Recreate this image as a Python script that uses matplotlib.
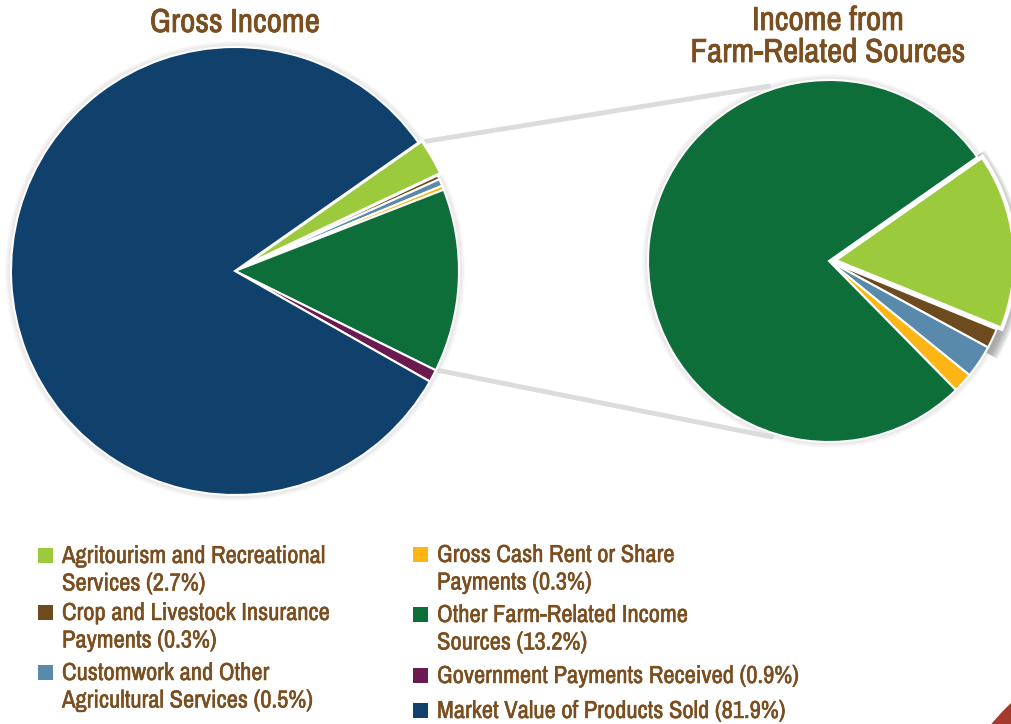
import math

import matplotlib
matplotlib.use("Agg")
import matplotlib.pyplot as plt
import matplotlib.patheffects as pe
from matplotlib.patches import Rectangle, Circle, Wedge

# ── データ ─────────────────────────────────────────────────────────────
categories = [
    "Agritourism and Recreational Services",
    "Crop and Livestock Insurance Payments",
    "Customwork and Other Agricultural Services",
    "Gross Cash Rent or Share Payments",
    "Other Farm-Related Income Sources",
    "Government Payments Received",
    "Market Value of Products Sold",
]
shares = [2.7, 0.3, 0.5, 0.3, 13.2, 0.9, 81.9]   # % of gross income
n_farm_related = 5                               # 先頭5項目が農業関連収入
legend_text = [
    "Agritourism and Recreational\nServices",
    "Crop and Livestock Insurance\nPayments",
    "Customwork and Other\nAgricultural Services",
    "Gross Cash Rent or Share\nPayments",
    "Other Farm-Related Income\nSources",
    "Government Payments Received",
    "Market Value of Products Sold",
]
colors = ["#9bca3c", "#6e4a1f", "#5a8aab", "#fdb515",
          "#0d6e3a", "#6b1a4f", "#10406c"]

# ── レイアウト（ピクセル座標, y は上から）──────────────────────────────
W, H = 1011, 724
TEXT_COLOR = "#7a4e1f"
FONT = ["Archivo Narrow", "Liberation Sans Narrow", "DejaVu Sans"]
LEFT_C, LEFT_R = (235, 271), 224
RIGHT_C, RIGHT_R = (829, 261), 181
START = 35

plt.rcParams["font.family"] = FONT

fig = plt.figure(figsize=(W / 100, H / 100), dpi=100)
ax = fig.add_axes([0, 0, 1, 1])

# 少し太く見せる
title_fx = [pe.withStroke(linewidth=0.55, foreground=TEXT_COLOR)]
legend_fx = [pe.withStroke(linewidth=0.35, foreground=TEXT_COLOR)]


def Y(py):
    return H - py


def soft_halo(cx, cy, r, z=0):
    for k in range(1, 7):
        ax.add_patch(Circle((cx, cy), r + k, color="#808080", alpha=0.035,
                            linewidth=0, zorder=z))


lc = (LEFT_C[0], Y(LEFT_C[1]))
rc = (RIGHT_C[0], Y(RIGHT_C[1]))

# 影
soft_halo(*lc, LEFT_R)
soft_halo(*rc, RIGHT_R)
farm_total = sum(shares[:n_farm_related])
agri_end = START - shares[0] / farm_total * 360
for k in range(1, 9):
    ax.add_patch(Wedge((rc[0] + 5, rc[1] - 3), RIGHT_R + k, agri_end - 8, START + 2,
                       color="#404040", alpha=0.06, linewidth=0, zorder=0))

# 接続線
end_ang = START - farm_total / 100 * 360
for a_left, a_right in ((START, 109), (end_ang, -108)):
    x0 = lc[0] + LEFT_R * math.cos(math.radians(a_left))
    y0 = lc[1] + LEFT_R * math.sin(math.radians(a_left))
    x1 = rc[0] + (RIGHT_R + 4) * math.cos(math.radians(a_right))
    y1 = rc[1] + (RIGHT_R + 4) * math.sin(math.radians(a_right))
    ax.plot([x0, x1], [y0, y1], color="#dcdcdc", linewidth=3.5,
            solid_capstyle="round", zorder=1)

# 左：総収入
explode_left = [4, 0, 0, 0, 0, 0, 0]
wedges, _ = ax.pie(shares, colors=colors, startangle=START, counterclock=False,
                   center=lc, radius=LEFT_R, explode=explode_left, frame=True,
                   wedgeprops=dict(edgecolor="white", linewidth=1.5))
for w in wedges:
    w.set_zorder(2)
wedges[0].set_linewidth(2.5)

# 右：農業関連収入
explode_right = [5, 0, 0, 0, 0]
wedges_r, _ = ax.pie(shares[:n_farm_related], colors=colors[:n_farm_related],
                     startangle=START, counterclock=False, center=rc,
                     radius=RIGHT_R, explode=explode_right, frame=True,
                     wedgeprops=dict(edgecolor="white", linewidth=1.5))
for w in wedges_r:
    w.set_zorder(2)
wedges_r[0].set_linewidth(3)

# タイトル
for tx, ty, s in ((235, 32, "Gross Income"), (828, 30, "Income from"),
                  (828, 62, "Farm-Related Sources")):
    ax.text(tx, Y(ty), s, fontsize=24, color=TEXT_COLOR, ha="center",
            va="baseline", zorder=5, path_effects=title_fx)

# 凡例
col_x = [38, 413]
col_rows = [[563, 620, 680], [562, 622, 683, 718]]
entries = [(0, r) for r in col_rows[0]] + [(1, r) for r in col_rows[1]]
for i, (col, base) in enumerate(entries):
    x = col_x[col]
    ax.add_patch(Rectangle((x, Y(base)), 15, 15, color=colors[i],
                           linewidth=0, zorder=5))
    lines = (legend_text[i] + f" ({shares[i]}%)").split("\n")
    for k, line in enumerate(lines):
        ax.text(x + 24, Y(base + 27.5 * k), line, fontsize=17.7,
                color=TEXT_COLOR, ha="left", va="baseline", zorder=5,
                path_effects=legend_fx)

# 右下の飾り
ax.add_patch(Circle((1200, Y(900)), 273, color="#a33a2c", linewidth=0, zorder=5))

ax.set_xlim(0, W)
ax.set_ylim(0, H)
ax.axis("off")

fig.savefig("out.png", dpi=100, facecolor="white")
